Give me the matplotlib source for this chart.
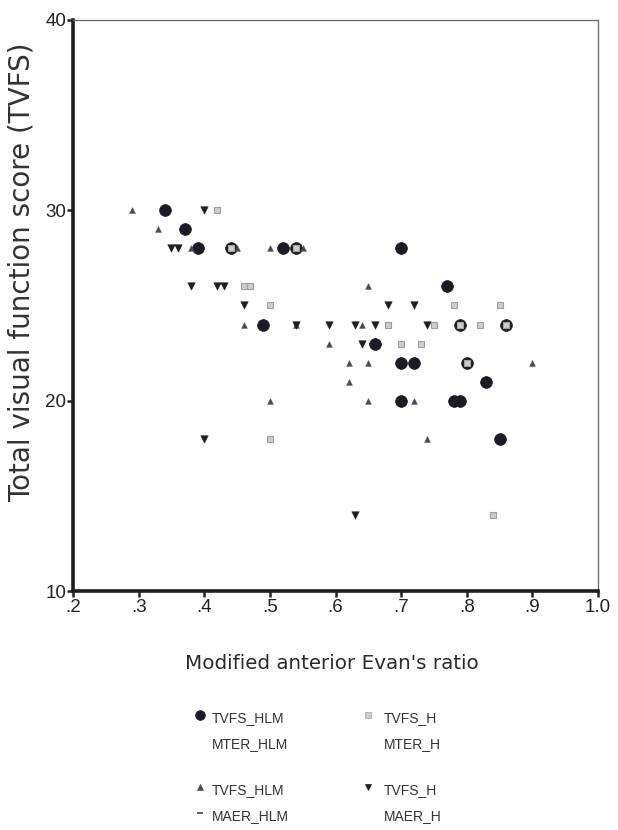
import matplotlib
matplotlib.use("Agg")
import matplotlib.pyplot as plt

# ---- data ----
mter_hlm = [0.34, 0.37, 0.39, 0.44, 0.52, 0.54, 0.49, 0.70, 0.77, 0.66, 0.79, 0.86,
            0.70, 0.72, 0.80, 0.83, 0.70, 0.78, 0.79, 0.85]
tvfs_hlm_c = [30, 29, 28, 28, 28, 28, 24, 28, 26, 23, 24, 24,
              22, 22, 22, 21, 20, 20, 20, 18]

mter_h = [0.42, 0.44, 0.54, 0.46, 0.47, 0.50, 0.78, 0.85, 0.68, 0.75, 0.79, 0.82,
          0.86, 0.70, 0.73, 0.80, 0.50, 0.84]
tvfs_h_s = [30, 28, 28, 26, 26, 25, 25, 25, 24, 24, 24, 24,
            24, 23, 23, 22, 18, 14]

maer_hlm = [0.29, 0.33, 0.38, 0.45, 0.50, 0.55, 0.65, 0.46, 0.54, 0.64, 0.59, 0.62,
            0.65, 0.90, 0.62, 0.50, 0.65, 0.72, 0.74]
tvfs_hlm_t = [30, 29, 28, 28, 28, 28, 26, 24, 24, 24, 23, 22,
              22, 22, 21, 20, 20, 20, 18]

maer_h = [0.40, 0.35, 0.36, 0.38, 0.42, 0.43, 0.46, 0.68, 0.72, 0.54, 0.59, 0.63,
          0.66, 0.74, 0.64, 0.40, 0.63]
tvfs_h_t = [30, 28, 28, 26, 26, 26, 25, 25, 25, 24, 24, 24,
            24, 24, 23, 18, 14]

x_ticks = [0.2, 0.3, 0.4, 0.5, 0.6, 0.7, 0.8, 0.9, 1.0]
x_ticklabels = [".2", ".3", ".4", ".5", ".6", ".7", ".8", ".9", "1.0"]
y_ticks = [10, 20, 30, 40]
y_ticklabels = ["10", "20", "30", "40"]

legend_rows = [
    [("TVFS_HLM", "MTER_HLM"), ("TVFS_H", "MTER_H")],
    [("TVFS_HLM", "MAER_HLM"), ("TVFS_H", "MAER_H")],
]

# ---- styles ----
W, H = 618, 830
fig = plt.figure(figsize=(W / 100, H / 100), dpi=100)
ax = fig.add_axes([73 / W, 1 - 591 / H, (598 - 73) / W, (591 - 20) / H])

circ_style = dict(marker="o", s=72, facecolor="#1b1b24", edgecolor="#1b1b24", linewidths=0.5, zorder=3)
sq_style = dict(marker="s", s=22, facecolor="#cdcdcd", edgecolor="#a0a0a0", linewidths=0.8, zorder=5)
up_style = dict(marker="^", s=18, facecolor="#4a4a55", edgecolor="#4a4a55", linewidths=0.3, zorder=4)
dn_style = dict(marker="v", s=30, facecolor="#1e1e22", edgecolor="#1e1e22", linewidths=0.3, zorder=4)

ax.scatter(mter_hlm, tvfs_hlm_c, **circ_style)
ax.scatter(maer_hlm, tvfs_hlm_t, **up_style)
ax.scatter(maer_h, tvfs_h_t, **dn_style)
ax.scatter(mter_h, tvfs_h_s, **sq_style)

ax.set_xlim(0.2, 1.0)
ax.set_ylim(10, 40)
ax.set_xticks(x_ticks)
ax.set_xticklabels(x_ticklabels)
ax.set_yticks(y_ticks)
ax.set_yticklabels(y_ticklabels)

for lab in ax.get_xticklabels() + ax.get_yticklabels():
    lab.set_fontfamily(["Liberation Sans", "DejaVu Sans"])
    lab.set_fontsize(13.5)
    lab.set_color("#222222")

ax.tick_params(axis="both", direction="out", length=4, width=1.8, color="#222222", pad=2)
ax.tick_params(axis="y", pad=1)

for side in ["left", "bottom"]:
    ax.spines[side].set_linewidth(2.6)
    ax.spines[side].set_color("#1e1e1e")
for side in ["top", "right"]:
    ax.spines[side].set_linewidth(0.9)
    ax.spines[side].set_color("#666666")

fig.text(22 / W, 1 - 272 / H, "Total visual function score (TVFS)", fontsize=20,
         family=["DejaVu Sans"], color="#333333", rotation=90, ha="center", va="center")
fig.text(332 / W, 1 - 663 / H, "Modified anterior Evan's ratio", fontsize=14.3,
         family=["DejaVu Sans"], color="#2a2a2a", ha="center", va="center")

# ---- legend (manual, two columns) ----
leg_ax = fig.add_axes([0, 0, 1, 1], facecolor="none")
leg_ax.set_xlim(0, W)
leg_ax.set_ylim(H, 0)
leg_ax.axis("off")

legend_handles = [[circ_style, sq_style], [up_style, dn_style]]
leg_marker_sizes = [[7, 4], [4, 4.5]]
row_y = [718, 790]
line_gap = 26
col_marker_x = [200, 368]
col_text_x = [212, 384]
leg_font = dict(family=["Liberation Sans Narrow", "DejaVu Sans Condensed", "Liberation Sans"],
                size=10, color="#333333")

for r, row in enumerate(legend_rows):
    for c, (l1, l2) in enumerate(row):
        st = legend_handles[r][c]
        leg_ax.plot([col_marker_x[c]], [row_y[r] - 3], linestyle="none", marker=st["marker"],
                    markersize=leg_marker_sizes[r][c], markerfacecolor=st["facecolor"],
                    markeredgecolor=st["edgecolor"], markeredgewidth=0.5)
        leg_ax.text(col_text_x[c], row_y[r], l1, va="center", ha="left", **leg_font)
        leg_ax.text(col_text_x[c], row_y[r] + line_gap, l2, va="center", ha="left", **leg_font)

leg_ax.plot([col_marker_x[0]], [row_y[1] + line_gap - 3], linestyle="none", marker="_",
            markersize=4, markeredgecolor="#444444", markeredgewidth=1.2)

fig.savefig("out.png", dpi=100)
